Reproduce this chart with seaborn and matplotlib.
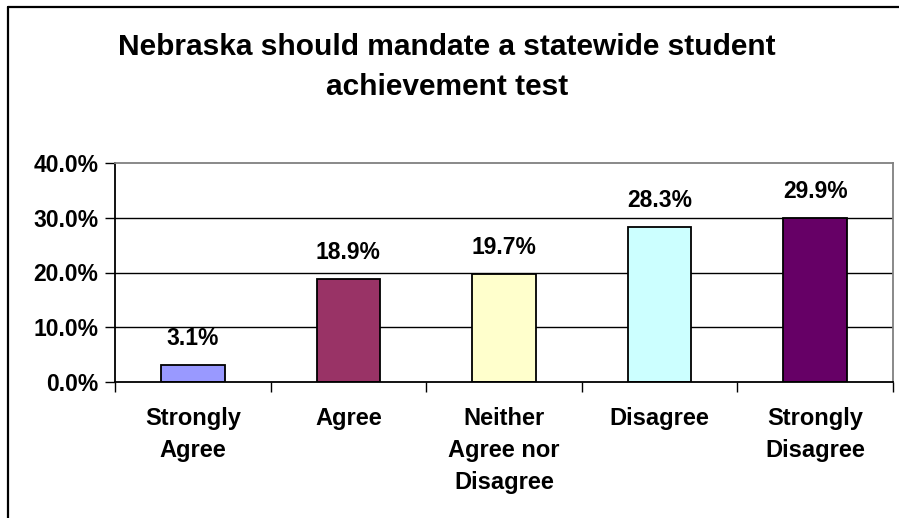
import matplotlib
matplotlib.use("Agg")
import matplotlib.pyplot as plt
from matplotlib.lines import Line2D
from matplotlib.ticker import FuncFormatter, FixedLocator
import seaborn as sns
import pandas as pd

categories = ["Strongly\nAgree", "Agree", "Neither\nAgree nor\nDisagree", "Disagree", "Strongly\nDisagree"]
values = [0.031, 0.189, 0.197, 0.283, 0.299]
bar_colors = ["#9999FF", "#993366", "#FFFFCC", "#CCFFFF", "#660066"]
title = "Nebraska should mandate a statewide student\nachievement test"
y_ticks = [0.0, 0.1, 0.2, 0.3, 0.4]

sns.set_theme(style="white")
plt.rcParams["font.family"] = ["Liberation Sans", "DejaVu Sans"]
plt.rcParams["font.weight"] = "bold"
plt.rcParams["text.color"] = "black"
plt.rcParams["xtick.color"] = "black"
plt.rcParams["ytick.color"] = "black"

df = pd.DataFrame({"response": categories, "share": values})

fig = plt.figure(figsize=(8.99, 5.18), dpi=100)
fig.patch.set_facecolor("white")
ax = fig.add_axes([115 / 899, 1 - 382 / 518, (893 - 115) / 899, (382 - 163) / 518])

sns.barplot(data=df, x="response", y="share", hue="response", palette=bar_colors,
            legend=False, width=0.41, saturation=1, edgecolor="black", linewidth=1.3,
            ax=ax, zorder=3)

ax.set_xlim(-0.5, len(categories) - 0.5)
ax.set_ylim(0, 0.4)
ax.yaxis.set_major_locator(FixedLocator(y_ticks))
ax.yaxis.set_major_formatter(FuncFormatter(lambda v, _: f"{v * 100:.1f}%"))

# horizontal gridlines
for v in y_ticks[1:-1]:
    ax.axhline(v, color="black", linewidth=1.0, zorder=1)

# spines: left & bottom black, top & right grey (plot area frame)
for side in ["left", "bottom"]:
    ax.spines[side].set_color("black")
    ax.spines[side].set_linewidth(1.3)
for side in ["top", "right"]:
    ax.spines[side].set_color("#808080")
    ax.spines[side].set_linewidth(1.3)
ax.spines["bottom"].set_zorder(4)

# category boundary tick marks
ax.xaxis.set_minor_locator(FixedLocator([i - 0.5 for i in range(len(categories) + 1)]))
ax.tick_params(axis="x", which="minor", length=7, width=1.0, color="black", direction="out", bottom=True)
ax.tick_params(axis="x", which="major", length=0, pad=18, labelsize=17)
ax.tick_params(axis="y", which="major", length=7, width=1.0, color="black", direction="out",
               left=True, pad=5, labelsize=16.5)
for lbl in ax.get_xticklabels():
    lbl.set_fontweight("bold")
    lbl.set_linespacing(1.5)
    lbl.set_verticalalignment("top")
for lbl in ax.get_yticklabels():
    lbl.set_fontweight("bold")

ax.set_xlabel("")
ax.set_ylabel("")

# value labels above bars
for i, v in enumerate(values):
    ax.annotate(f"{v * 100:.1f}%", xy=(i, v), xytext=(0, 19), textcoords="offset points",
                ha="center", va="center", fontsize=16.5, fontweight="bold", color="black")

fig.text(447 / 899, 1 - 67 / 518, title, ha="center", va="center", fontsize=21.5,
         fontweight="bold", linespacing=1.55)

# chart frame (top and left edges)
fig.add_artist(Line2D([8 / 899, 8 / 899], [0, 1 - 7 / 518], color="black", linewidth=1.6,
                      transform=fig.transFigure))
fig.add_artist(Line2D([8 / 899, 1], [1 - 7 / 518, 1 - 7 / 518], color="black", linewidth=1.6,
                      transform=fig.transFigure))

fig.savefig("out.png", dpi=100)
